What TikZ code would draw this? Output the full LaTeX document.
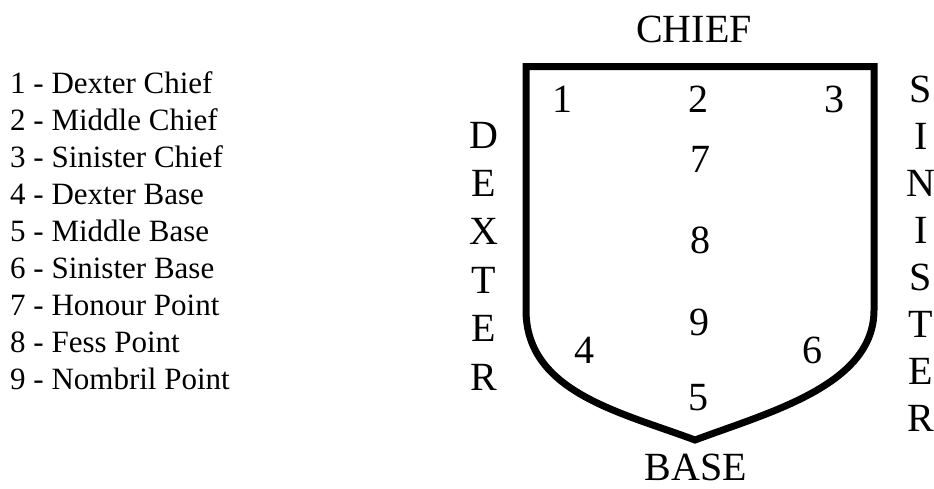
\documentclass[tikz,border=0pt]{standalone}
\usepackage{fontspec}
\setmainfont{Liberation Serif}
\usetikzlibrary{positioning}

\begin{document}
\begin{tikzpicture}[x=1pt, y=-1pt,
    keytext/.style={anchor=base west, inner sep=0pt, font=\fontsize{31}{37}\selectfont},
    pointnum/.style={anchor=base, inner sep=0pt, font=\fontsize{40}{48}\selectfont},
    sidetext/.style={anchor=base, inner sep=0pt, font=\fontsize{40}{48}\selectfont}]
        \useasboundingbox (0,0) rectangle (934,488);
        % key on the left
        \foreach \t [count=\i] in {Dexter Chief, Middle Chief, Sinister Chief,
            Dexter Base, Middle Base, Sinister Base, Honour Point, Fess Point, Nombril Point}
          \node[keytext] (key\i) at (10, 93+37*\i-37) {\i\ - \t};
        % shield outline
        \coordinate (tl) at (526,66.5);
        \coordinate (tr) at (874,66.5);
        \coordinate (tip) at (695,440);
        \draw[line width=7pt, line join=miter] (tl|-0,310) -- (tl) -- (tr) -- (tr|-0,310)
            .. controls (874,385) and (770,412) .. (tip)
            .. controls (620,412) and (526,392) .. cycle;
        % points on the shield
        \node[pointnum] (p1) at (562,112) {1};
        \node[pointnum] (p2) at (698,112) {2};
        \node[pointnum] (p3) at (834,112) {3};
        \node[pointnum] (p7) at (700,172) {7};
        \node[pointnum] (p8) at (700,253) {8};
        \node[pointnum] (p9) at (699,335) {9};
        \node[pointnum] (p4) at (584,363) {4};
        \node[pointnum] (p6) at (812,363) {6};
        \node[pointnum] (p5) at (698,410) {5};
        % sides
        \node[sidetext] (chief) at (694,42) {CHIEF};
        \node[sidetext] (base) at (696,480) {BASE};
        \foreach \c [count=\i from 0] in {D,E,X,T,E,R}
          \node[sidetext] (dex\i) at (484, 148+48.4*\i) {\c};
        \foreach \c [count=\i from 0] in {S,I,N,I,S,T,E,R}
          \node[sidetext] (sin\i) at (921, 102+47*\i) {\c};
      \end{tikzpicture}
\end{document}
